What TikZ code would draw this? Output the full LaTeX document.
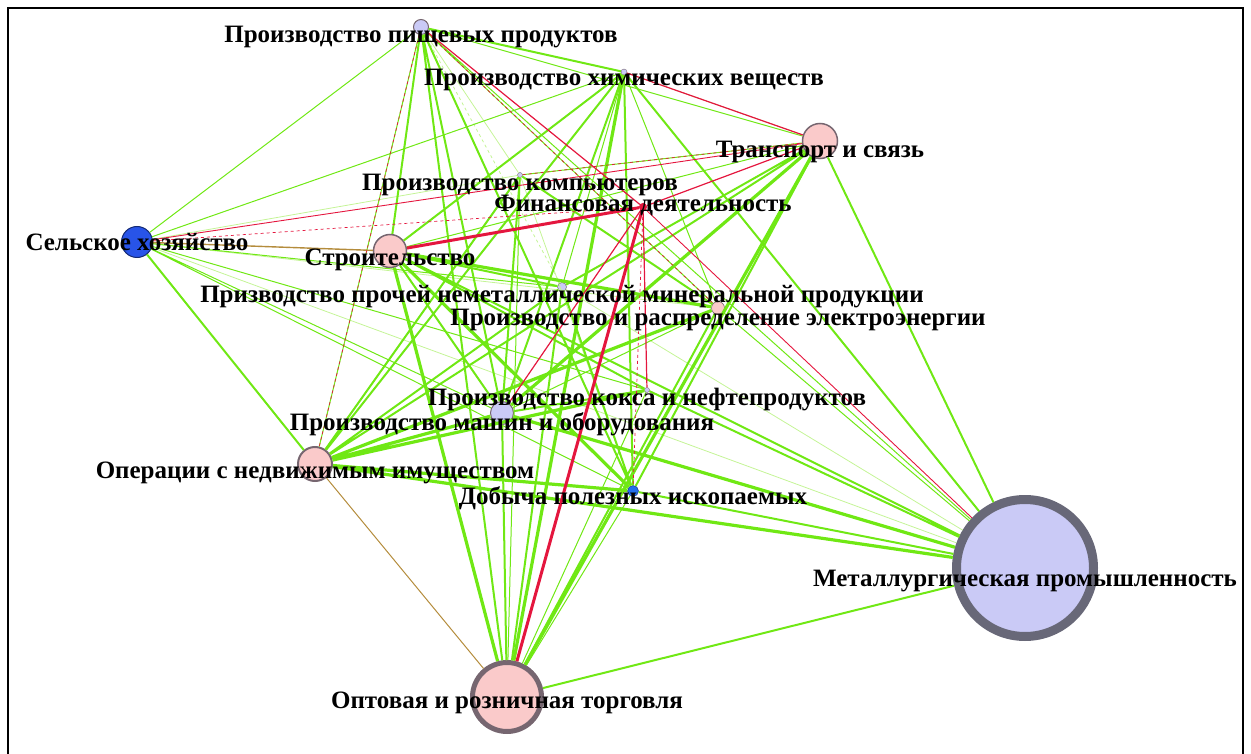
\documentclass[tikz,border=0pt]{standalone}
\usepackage{fontspec}
\setmainfont{Liberation Serif}

\definecolor{gline}{RGB}{112,232,20}
\definecolor{gpale}{RGB}{196,244,150}
\definecolor{rline}{RGB}{228,22,62}
\definecolor{oline}{RGB}{180,140,60}
\definecolor{lav}{RGB}{202,202,246}
\definecolor{rosa}{RGB}{250,202,202}
\definecolor{blau}{RGB}{40,84,232}
\definecolor{rim}{RGB}{118,102,112}
\definecolor{steel}{RGB}{104,104,120}

\tikzset{
  knot/.style={circle, inner sep=0pt, draw=rim, line width=1pt},
  lbl/.style={font=\fontsize{25}{28}\selectfont\bfseries, anchor=base, inner sep=0pt},
  plink/.style={gpale, line width=0.8pt},
  wlink/.style={gline, line width=1pt},
  mlink/.style={gline, line width=2pt},
  slink/.style={gline, line width=3.2pt},
  rlink/.style={rline, line width=1.2pt},
  rslink/.style={rline, line width=3pt},
  rdlink/.style={rline, line width=0.7pt, dashed},
  olink/.style={oline, line width=1.4pt},
}

\begin{document}
\begin{tikzpicture}[x=1pt, y=-1pt]
\useasboundingbox (0,0) rectangle (1251,754);
% рамка
\draw[line width=2.2pt] (8,754) -- (8,8) -- (1243,8) -- (1243,754);

% отрасли
\node[knot, fill=lav, minimum size=15pt] (pish) at (421,27) {};
\node[knot, fill=lav, minimum size=6pt, line width=0.4pt] (chem) at (624,72) {};
\node[knot, fill=rosa, minimum size=35pt, line width=1.5pt] (trans) at (820,141) {};
\node[knot, fill=lav, minimum size=5pt, line width=0.4pt] (comp) at (520,175) {};
\node[knot, fill=rline, draw=rline, minimum size=7pt] (fin) at (643,207) {};
\node[knot, fill=blau, draw=blau!50!black, minimum size=31pt] (agri) at (137,242) {};
\node[knot, fill=rosa, minimum size=33pt, line width=1.5pt] (constr) at (390,251) {};
\node[knot, fill=lav, minimum size=9pt, line width=0.5pt] (nonmet) at (562,287) {};
\node[knot, fill=rosa, minimum size=13pt, line width=0.6pt] (elec) at (718,308) {};
\node[knot, fill=lav, minimum size=5pt, line width=0.4pt] (coke) at (647,390) {};
\node[knot, fill=lav, minimum size=23pt] (mach) at (502,413) {};
\node[knot, fill=rosa, minimum size=34pt, line width=2pt] (realty) at (315,464) {};
\node[knot, fill=blau!85!cyan, draw=blau!60!black, minimum size=11pt, line width=0.5pt] (mining) at (633,491) {};
\node[knot, fill=lav, draw=steel, minimum size=137pt, line width=9pt] (metal) at (1025,568) {};
\node[knot, fill=rosa, minimum size=69pt, line width=5pt] (trade) at (507,697) {};

% слабые связи
\draw[plink] (agri) -- (comp) (agri) -- (metal) (chem) -- (trans) (pish) -- (comp)
  (nonmet) -- (metal) (coke) -- (metal) (comp) -- (mining) (agri) -- (elec);
\draw[plink, dashed] (mach) -- (trade) (chem) -- (constr) (pish) -- (nonmet);
\draw[wlink] (agri) -- (pish) (agri) -- (chem) (agri) -- (nonmet) (agri) -- (mach)
  (agri) -- (coke) (agri) -- (mining) (pish) -- (trans) (pish) -- (elec)
  (pish) -- (metal) (pish) -- (realty) (chem) -- (nonmet) (chem) -- (elec)
  (trans) -- (constr) (trans) -- (comp) (comp) -- (realty) (comp) -- (trade)
  (elec) -- (mach) (coke) -- (trade) (mining) -- (trade) (elec) -- (metal);

% средние связи
\draw[mlink] (agri) -- (realty) (pish) -- (chem) (pish) -- (constr) (pish) -- (mach)
  (pish) -- (trade) (pish) -- (mining) (chem) -- (constr) (chem) -- (mach)
  (chem) -- (mining) (chem) -- (metal) (chem) -- (realty) (trans) -- (mining)
  (trans) -- (nonmet) (trans) -- (metal) (constr) -- (mach) (constr) -- (nonmet)
  (constr) -- (coke) (constr) -- (metal) (realty) -- (nonmet) (realty) -- (comp)
  (realty) -- (trans) (mach) -- (coke) (mach) -- (trade) (mining) -- (metal)
  (coke) -- (metal) (nonmet) -- (trade) (elec) -- (trade) (trade) -- (metal)
  (nonmet) -- (mining) (comp) -- (mach) (comp) -- (elec);

% сильные связи
\draw[slink] (realty) -- (mach) (realty) -- (mining) (realty) -- (metal) (realty) -- (coke)
  (realty) -- (elec) (trans) -- (trade) (trans) -- (mach) (chem) -- (trade)
  (constr) -- (elec) (constr) -- (trade) (constr) -- (mining) (mach) -- (metal);

% отрицательные связи
\draw[olink] (agri) -- (constr);
\draw[olink, line width=1pt] (realty) -- (trade);
\draw[rdlink] (fin) -- (mining) (agri) -- (fin) (pish) -- (realty) (pish) -- (elec)
  (comp) -- (trans);
\draw[rlink] (fin) -- (trans) (fin) -- (mach) (fin) -- (coke) (chem) -- (trans)
  (pish) -- (fin);
\draw[rlink, line width=0.9pt] (fin) -- (metal) (agri) -- (trans);
\draw[rslink] (constr) -- (fin) (fin) -- (trade);

% подписи
\node[lbl] (l-pish) at ([yshift=-16pt]pish.center) {Производство пищевых продуктов};
\node[lbl] (l-chem) at ([yshift=-14pt]chem.center) {Производство химических веществ};
\node[lbl] (l-trans) at ([yshift=-17pt]trans.center) {Транспорт и связь};
\node[lbl] (l-comp) at ([yshift=-16pt]comp.center) {Производство компьютеров};
\node[lbl] (l-fin) at ([yshift=-5pt]fin.center) {Финансовая деятельность};
\node[lbl] (l-agri) at ([yshift=-9pt]agri.center) {Сельское хозяйство};
\node[lbl] (l-constr) at ([yshift=-15pt]constr.center) {Строительство};
\node[lbl] (l-nonmet) at ([yshift=-15pt]nonmet.center) {Призводство прочей неметаллической минеральной продукции};
\node[lbl] (l-elec) at ([yshift=-18pt]elec.center) {Производство и распределение электроэнергии};
\node[lbl] (l-coke) at ([yshift=-15pt]coke.center) {Производство кокса и нефтепродуктов};
\node[lbl] (l-mach) at ([yshift=-17pt]mach.center) {Производство машин и оборудования};
\node[lbl] (l-realty) at ([yshift=-14pt]realty.center) {Операции с недвижимым имуществом};
\node[lbl] (l-mining) at ([yshift=-13pt]mining.center) {Добыча полезных ископаемых};
\node[lbl] (l-metal) at ([yshift=-18pt]metal.center) {Металлургическая промышленность};
\node[lbl] (l-trade) at ([yshift=-11pt]trade.center) {Оптовая и розничная торговля};
\end{tikzpicture}
\end{document}
